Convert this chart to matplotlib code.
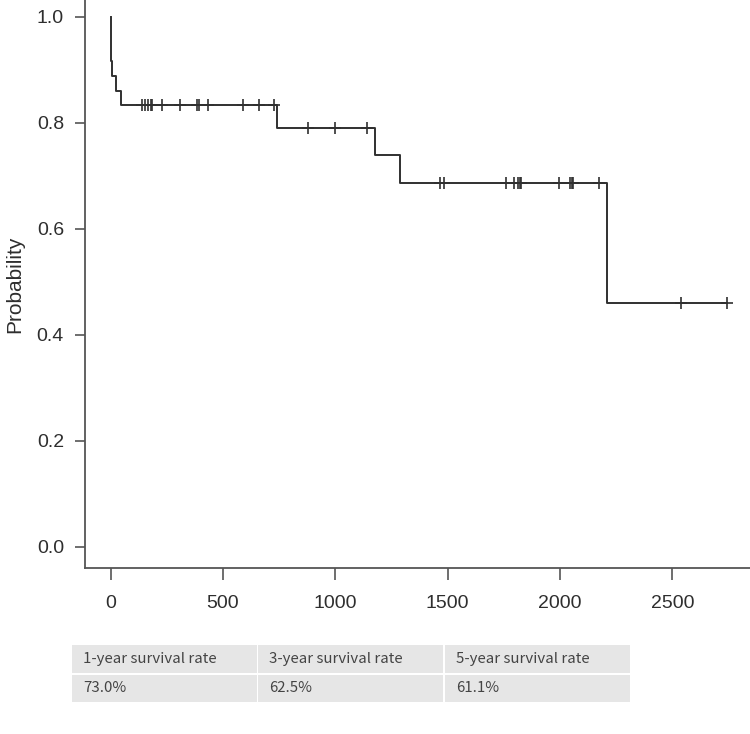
import numpy as np
import matplotlib
matplotlib.use("Agg")
import matplotlib.pyplot as plt
from matplotlib.patches import Rectangle

# ---- data ----
step_times = [0, 1, 5, 22, 44, 739, 1178, 1287, 2211, 2743]
step_surv = [1.0, 0.917, 0.889, 0.861, 0.833, 0.791, 0.740, 0.687, 0.459, 0.459]
censor_times = [141, 152, 164, 179, 185, 230, 308, 383, 393, 432, 591, 658, 727,
                877, 999, 1142, 1466, 1484, 1758, 1796, 1815, 1822, 1828,
                1997, 2045, 2052, 2058, 2174, 2538, 2743]
x_ticks = [0, 500, 1000, 1500, 2000, 2500]
y_ticks = [0.0, 0.2, 0.4, 0.6, 0.8, 1.0]
y_label = "Probability"
table_header = ["1-year survival rate", "3-year survival rate", "5-year survival rate"]
table_values = ["73.0%", "62.5%", "61.1%"]

W, H = 750, 734
fig = plt.figure(figsize=(W / 100, H / 100), dpi=100)

def fx(px):
    return px / W

def fy(py):
    return 1 - py / H

ax = fig.add_axes([fx(85), fy(568), fx(750) - fx(85), fy(0) - fy(568)])
ax.set_xlim(-114.4, 2846)
ax.set_ylim(-0.0406, 1.032)

line_col = "#303030"
ax.step(step_times, step_surv, where="post", color=line_col, lw=1.4)
idx = np.searchsorted(step_times, censor_times, side="right") - 1
c_surv = np.array(step_surv)[idx]
ax.plot(censor_times, c_surv, linestyle="none", marker="+", markersize=9.2,
        mew=1.2, color=line_col)

for s in ["top", "right"]:
    ax.spines[s].set_visible(False)
for s in ["left", "bottom"]:
    ax.spines[s].set_color("#555555")
    ax.spines[s].set_linewidth(1.3)

ax.set_xticks(x_ticks)
ax.set_xticklabels([str(v) for v in x_ticks])
ax.set_yticks(y_ticks)
ax.set_yticklabels([f"{v:.1f}" for v in y_ticks])
ax.tick_params(axis="x", direction="out", length=8.6, width=1.2, color="#555555",
               pad=11, labelsize=14, labelcolor="#2e2e2e")
ax.tick_params(axis="y", direction="out", length=7.2, width=1.2, color="#555555",
               pad=8, labelsize=14, labelcolor="#2e2e2e")
for lab in ax.get_xticklabels() + ax.get_yticklabels():
    lab.set_fontfamily("Liberation Sans")
ax.set_ylabel(y_label, fontsize=15, fontfamily="Liberation Sans", color="#2e2e2e")
ax.yaxis.set_label_coords(-0.091, 0.5)

# ---- table ----
col_x = [72.3, 258.3, 445.3]
col_w = 184.5
row_y = [645, 675]
row_h = [28, 27]
cell_col = "#e6e6e6"
for r, texts in enumerate([table_header, table_values]):
    for c, t in enumerate(texts):
        x0 = col_x[c]
        y0 = row_y[r]
        fig.add_artist(Rectangle((fx(x0), fy(y0 + row_h[r])), fx(col_w), fy(0) - fy(row_h[r]),
                                 transform=fig.transFigure, facecolor=cell_col,
                                 edgecolor="none"))
        fig.text(fx(x0 + 11), fy(y0 + row_h[r] / 2), t, ha="left", va="center",
                 fontsize=10.8, family=["Noto Sans CJK KR", "DejaVu Sans"], color="#444444")

fig.savefig("out.png", dpi=100)
